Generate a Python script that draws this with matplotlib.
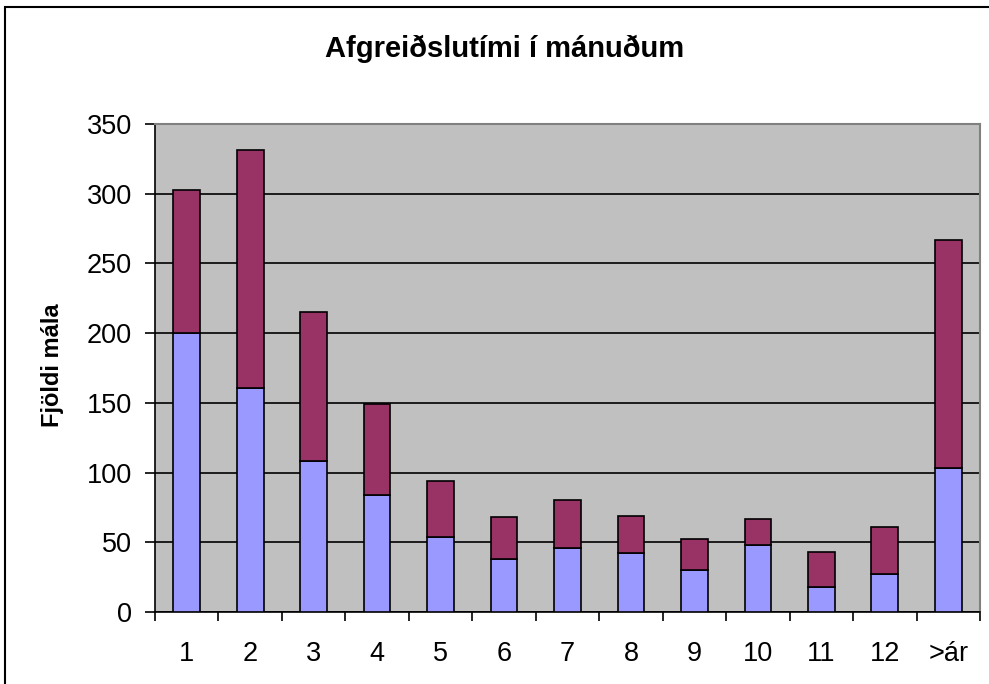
import matplotlib
matplotlib.use('Agg')
import matplotlib.pyplot as plt
from matplotlib.patches import Rectangle
import numpy as np

plt.rcParams['font.family'] = ['Liberation Sans', 'DejaVu Sans']

# Dados
categories = ["1", "2", "3", "4", "5", "6", "7", "8", "9", "10", "11", "12", ">ár"]
lower = [200, 161, 108, 84, 54, 38, 46, 42, 30, 48, 18, 27, 103]
upper = [103, 170, 107, 65, 40, 30, 34, 27, 22, 19, 25, 34, 164]
y_ticks = [0, 50, 100, 150, 200, 250, 300, 350]

fig = plt.figure(figsize=(9.89, 6.84), dpi=100)
ax = fig.add_axes([155 / 989, 1 - 612 / 684, 825 / 989, 488 / 684])
ax.set_facecolor('#C0C0C0')

x = np.arange(len(categories))
ax.bar(x, lower, width=0.42, color='#9999FF', edgecolor='black', linewidth=1.2, zorder=3)
ax.bar(x, upper, width=0.42, bottom=lower, color='#993366', edgecolor='black', linewidth=1.2, zorder=3)

ax.set_xlim(-0.5, len(categories) - 0.5)
ax.set_ylim(0, 350)
ax.set_yticks(y_ticks)
ax.yaxis.grid(True, color='black', linewidth=1.2, zorder=0)
ax.set_axisbelow(True)

# ticks at category boundaries, labels at centers
ax.set_xticks(np.arange(-0.5, len(categories)), minor=False)
ax.set_xticklabels([])
ax.set_xticks(x, minor=True)
ax.set_xticklabels(categories, minor=True)
ax.tick_params(axis='x', which='major', direction='out', length=6.5, width=1.2)
ax.tick_params(axis='x', which='minor', length=0, pad=21, labelsize=19.5)
ax.tick_params(axis='y', direction='out', length=7, width=1.2, labelsize=19.5, pad=9.5)

ax.spines['left'].set_linewidth(1.2)
ax.spines['bottom'].set_linewidth(1.2)
ax.spines['top'].set_color('#808080')
ax.spines['right'].set_color('#808080')
ax.spines['top'].set_linewidth(1.5)
ax.spines['right'].set_linewidth(1.5)

fig.text(53 / 989, 1 - 365 / 684, 'Fjöldi mála', rotation=90, ha='center', va='center',
         fontsize=17, fontweight='bold')
fig.text(505 / 989, 1 - 57 / 684, 'Afgreiðslutími í mánuðum', ha='center', va='baseline',
         fontsize=21, fontweight='bold')

# ramma utan um myndina
fig.patches.append(Rectangle((5 / 989, -0.05), 1.2, 1 - 7 / 684 + 0.05, transform=fig.transFigure,
                             fill=False, edgecolor='black', linewidth=1.5))

fig.savefig('out.png', dpi=100)
